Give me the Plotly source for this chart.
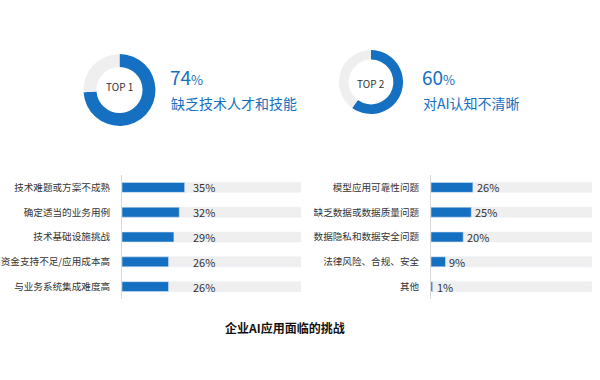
import plotly.graph_objects as go

W, H = 600, 380

# ---- data ----
top_labels = ["TOP 1", "TOP 2"]
top_values = [74, 60]
top_titles = ["缺乏技术人才和技能", "对AI认知不清晰"]

left_cats = ["技术难题或方案不成熟", "确定适当的业务用例", "技术基础设施挑战",
             "资金支持不足/应用成本高", "与业务系统集成难度高"]
left_vals = [35, 32, 29, 26, 26]

right_cats = ["模型应用可靠性问题", "缺乏数据或数据质量问题", "数据隐私和数据安全问题",
              "法律风险、合规、安全", "其他"]
right_vals = [26, 25, 20, 9, 1]

full_scale = 100
chart_title = "企业AI应用面临的挑战"

BLUE = "#1570c1"
GRAY = "#efefef"
FONT = "Noto Sans CJK SC"


def px_x(p):
    return p / W


def px_y(p):
    return 1 - p / H


fig = go.Figure()

# ---- donuts ----
donut_domains = [
    dict(x=[px_x(83.5), px_x(155.5)], y=[px_y(126), px_y(54)]),
    dict(x=[px_x(338), px_x(404)], y=[px_y(114), px_y(50)]),
]
donut_holes = [0.64, 0.70]
for i, v in enumerate(top_values):
    fig.add_trace(go.Pie(
        values=[v, 100 - v], sort=False, direction="clockwise", rotation=0,
        hole=donut_holes[i], marker=dict(colors=[BLUE, GRAY], line=dict(width=0)),
        textinfo="none", hoverinfo="skip", showlegend=False,
        domain=donut_domains[i],
    ))

# ---- bar charts ----
ydom = [px_y(299), px_y(175)]
fig.add_trace(go.Bar(y=left_cats, x=[full_scale] * len(left_cats), orientation="h",
                     marker_color=GRAY, width=0.4, xaxis="x", yaxis="y",
                     showlegend=False, hoverinfo="skip"))
fig.add_trace(go.Bar(y=left_cats, x=left_vals, orientation="h",
                     marker_color=BLUE, width=0.4, xaxis="x", yaxis="y",
                     showlegend=False))
fig.add_trace(go.Bar(y=right_cats, x=[full_scale] * len(right_cats), orientation="h",
                     marker_color=GRAY, width=0.4, xaxis="x2", yaxis="y2",
                     showlegend=False, hoverinfo="skip"))
fig.add_trace(go.Bar(y=right_cats, x=right_vals, orientation="h",
                     marker_color=BLUE, width=0.4, xaxis="x2", yaxis="y2",
                     showlegend=False))

annotations = []
# donut center labels
centers = [(119.5, 86), (371, 83)]
for (cx, cy), lab in zip(centers, top_labels):
    annotations.append(dict(x=px_x(cx), y=px_y(cy), xref="paper", yref="paper",
                            xanchor="center", yanchor="middle",
                            text=lab, showarrow=False,
                            font=dict(family=FONT, size=10, color="#333333")))
# big percentages and titles
text_x = [168, 420]
for tx, v, t in zip(text_x, top_values, top_titles):
    annotations.append(dict(x=px_x(tx), y=px_y(77), xref="paper", yref="paper",
                            xanchor="left", yanchor="middle",
                            text=f"{v}<span style='font-size:13px'>%</span>",
                            showarrow=False,
                            font=dict(family=FONT, size=19, color=BLUE)))
    annotations.append(dict(x=px_x(tx + 1), y=px_y(103), xref="paper", yref="paper",
                            xanchor="left", yanchor="middle", text=t, showarrow=False,
                            font=dict(family=FONT, size=14, color=BLUE)))

# value labels
for c, v in zip(left_cats, left_vals):
    annotations.append(dict(x=46, y=c, xref="x", yref="y", text=f"{v}%",
                            showarrow=False, xanchor="center", yanchor="middle",
                            font=dict(family=FONT, size=11, color="#333333")))
for c, v in zip(right_cats, right_vals):
    annotations.append(dict(x=v, y=c, xref="x2", yref="y2", text=f"{v}%",
                            showarrow=False, xanchor="left", yanchor="middle", xshift=2,
                            font=dict(family=FONT, size=11, color="#333333")))

# chart title
annotations.append(dict(x=px_x(285), y=px_y(327), xref="paper", yref="paper",
                        xanchor="center", yanchor="middle",
                        text=f"<b>{chart_title}</b>", showarrow=False,
                        font=dict(family=FONT, size=12, color="#111111")))

axis_common = dict(range=[0, full_scale], showgrid=False, zeroline=False,
                   showticklabels=False, fixedrange=True)
yaxis_common = dict(showgrid=False, zeroline=False, showline=True,
                    linecolor="#d9d9d9", linewidth=1, ticks="",
                    ticklabelstandoff=9, tickfont=dict(family=FONT, size=9.6, color="#333333"),
                    autorange="reversed", domain=ydom)

fig.update_layout(
    width=W, height=H,
    margin=dict(l=0, r=0, t=0, b=0),
    paper_bgcolor="white", plot_bgcolor="white",
    barmode="overlay",
    xaxis=dict(domain=[px_x(122), px_x(301)], anchor="y", **axis_common),
    yaxis=dict(anchor="x", categoryorder="array", categoryarray=left_cats, **yaxis_common),
    xaxis2=dict(domain=[px_x(431), px_x(592)], anchor="y2", **axis_common),
    yaxis2=dict(anchor="x2", categoryorder="array", categoryarray=right_cats, **yaxis_common),
    annotations=annotations,
    font=dict(family=FONT),
)

fig.write_html("out.html")
